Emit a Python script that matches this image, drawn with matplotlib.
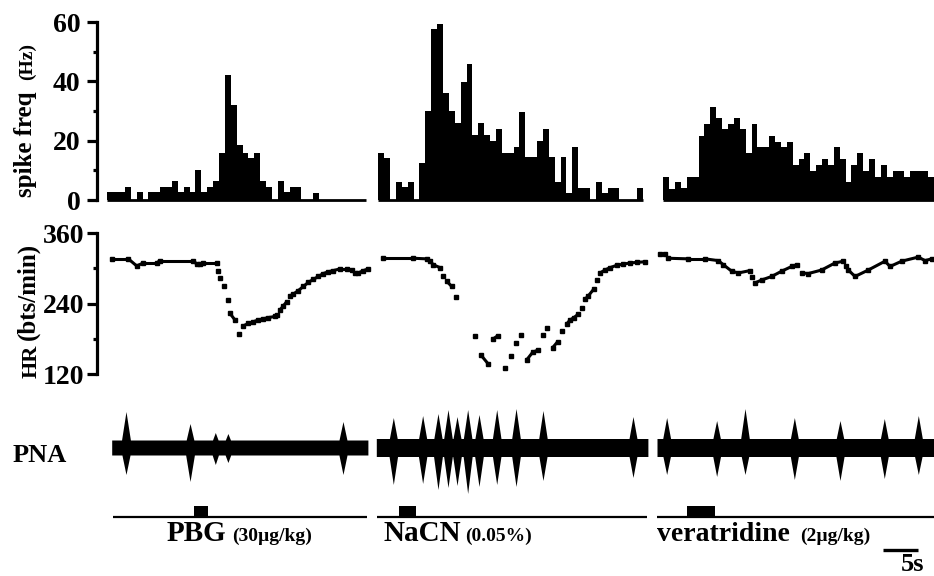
import numpy as np
import matplotlib.pyplot as plt

plt.rcParams['font.family'] = ['Liberation Serif', 'DejaVu Serif']
plt.rcParams['font.weight'] = 'bold'

W, H = 934, 576          # figure size in px
PX_PER_S = 7.0           # horizontal scale of the recording
BIN = 0.84               # histogram bin width (s)

# ---- spike frequency histograms (Hz per bin) ----
spk_pbg = [2.6, 2.6, 2.6, 4.5, 0, 2.6, 0, 2.6, 2.6, 4.5, 4.5, 6.4, 2.6, 4.5, 2.6, 10,
           2.6, 4.5, 6.4, 16, 42, 32, 18.5, 16, 14, 16, 6.4, 4.5, 0, 6.4, 2.6, 4.5,
           4.5, 0, 0, 2.5, 0, 0, 0, 0, 0, 0, 0, 0]
spk_nacn = [16, 14, 0, 6.2, 4.3, 6.2, 0, 12.4, 30, 57.5, 59.3, 36, 30, 26, 39.7, 45.7,
            22, 26, 22, 20, 24, 16, 16, 18, 29.8, 14.6, 14.6, 20, 24, 14.6, 6.2, 14.6,
            2.2, 18, 4, 4, 0, 6.2, 2.2, 4, 4, 0, 0, 0, 4]
spk_vera = [7.6, 3.7, 6, 4, 7.6, 7.6, 21.6, 25.6, 31.5, 27.5, 23.8, 25.6, 27.5, 23.8,
            15.7, 25.6, 17.8, 17.8, 21.6, 19.7, 17.8, 19.7, 11.8, 13.8, 15.7, 9.9, 11.8,
            13.8, 11.8, 17.8, 13.8, 6.2, 11.8, 15.7, 9.9, 13.8, 7.9, 11.8, 7.9, 9.9, 9.9,
            7.9, 9.9, 9.9, 9.9, 7.6]
spk_start = [1.47, 40.19, 80.9]     # time of first bin (s)

# ---- heart rate (time s, bts/min) ----
hr_pbg_t = [2.10, 4.48, 5.67, 6.62, 8.52, 9.00, 13.76, 14.24, 14.71, 15.19, 17.10, 17.33,
            17.57, 18.14, 18.67, 19.00, 19.71, 20.33, 20.90, 21.62, 22.33, 23.05, 23.76,
            24.48, 25.43, 25.67, 26.14, 26.62, 27.10, 27.57, 28.05, 28.76, 29.48, 30.19,
            30.90, 31.62, 32.33, 33.05, 33.76, 34.71, 35.67, 36.38, 36.86, 37.33, 38.05, 38.76]
hr_pbg = [316, 316, 304, 309, 309, 313, 313, 307, 307, 309, 309, 295, 283, 269, 246, 223,
          212, 188, 202, 206, 209, 212, 214, 216, 218, 221, 229, 236, 243, 253, 256, 262,
          269, 276, 281, 286, 291, 294, 296, 299, 299, 297, 292, 292, 296, 299]
hr_nacn_t = [40.90, 45.19, 47.10, 47.57, 48.05, 49.00, 49.48, 49.95, 50.67, 51.29, 54.00,
             54.86, 55.90, 56.62, 57.24, 58.29, 59.10, 59.86, 60.52, 61.38, 62.24, 63.05,
             63.67, 64.33, 65.10, 65.81, 66.48, 67.10, 67.57, 68.14, 68.76, 69.24, 69.71,
             70.19, 71.00, 71.38, 71.86, 72.57, 73.29, 74.24, 75.19, 76.14, 77.10, 78.29]
hr_nacn = [317, 317, 316, 312, 306, 301, 286, 278, 269, 251, 185, 152, 137, 180, 185, 130,
           151, 172, 186, 144, 157, 161, 186, 199, 165, 175, 193, 205, 212, 216, 222, 232,
           247, 253, 265, 280, 292, 297, 301, 305, 307, 309, 310, 311]
hr_vera_t = [80.43, 81.20, 81.62, 84.48, 86.86, 88.76, 89.48, 90.67, 91.62, 93.29, 93.62,
             94.00, 94.95, 96.38, 97.81, 99.24, 99.95, 100.67, 101.62, 103.52, 105.43,
             106.62, 107.00, 107.33, 108.29, 110.19, 112.57, 113.29, 114.95, 117.33,
             118.29, 119.24]
hr_vera = [324, 324, 317, 316, 316, 313, 306, 295, 292, 296, 285, 275, 280, 286, 295, 303,
           306, 292, 291, 297, 309, 312, 304, 297, 286, 297, 312, 303, 312, 319, 313, 316]

# ---- phrenic nerve activity: recording span, noise level, bursts ----
pna_span = [(2.1, 38.7), (39.9, 78.7), (80.0, 119.6)]
pna_noise = [7.5, 9, 9]
burst_pbg_t = [4.14, 13.29, 16.9, 18.7, 35.14]
burst_pbg_up = [36, 24, 15, 14, 26]
burst_pbg_dn = [27, 34, 17, 15, 27]
burst_nacn_t = [42.33, 46.52, 48.71, 50.14, 51.43, 52.95, 54.57, 57.10, 59.86, 63.71, 76.57]
burst_nacn_up = [30, 32, 34, 38, 31, 38, 33, 38, 39, 37, 31]
burst_nacn_dn = [37, 36, 42, 40, 38, 46, 39, 37, 39, 33, 30]
burst_vera_t = [81.38, 88.52, 92.57, 99.62, 106.14, 112.47, 117.33]
burst_vera_up = [30, 27, 39, 30, 27, 29, 32]
burst_vera_dn = [27, 29, 27, 32, 33, 31, 27]

# ---- drug injection markers ----
stim_span = [(2.23, 38.53), (39.96, 78.57), (80.0, 119.57)]
inject = [(13.86, 15.81), (43.19, 45.53), (84.33, 88.29)]
drug = ['PBG', 'NaCN', 'veratridine']
dose = ['(30µg/kg)', '(0.05%)', '(2µg/kg)']
scale_start = 112.3


def rect(left, top, right, bottom):
    return [left / W, 1 - bottom / H, (right - left) / W, (bottom - top) / H]


def fx(x):
    return x / W


def fy(y):
    return 1 - y / H


fig = plt.figure(figsize=(W / 100, H / 100), dpi=100)
xlim = (0, (W - 97) / PX_PER_S)


def style_axis(ax, pad):
    for s in ['top', 'right', 'bottom']:
        ax.spines[s].set_visible(False)
    ax.spines['left'].set_linewidth(2.3)
    ax.set_xticks([])
    ax.set_xlim(*xlim)
    ax.tick_params(axis='y', which='major', length=7, width=2.3, labelsize=20, pad=pad)
    ax.tick_params(axis='y', which='minor', length=3, width=2.3)
    ax.patch.set_alpha(0)


# spike frequency
ax1 = fig.add_axes(rect(97, 22, W, 200))
style_axis(ax1, 5)
ax1.set_ylim(0, 60)
ax1.set_yticks([0, 20, 40, 60])
ax1.set_yticks([10, 30, 50], minor=True)
for vals, t0 in zip([spk_pbg, spk_nacn, spk_vera], spk_start):
    edges = t0 + BIN * np.arange(len(vals) + 1)
    ax1.stairs(vals, edges, fill=True, color='k', lw=0)
    ax1.hlines(0, edges[0], edges[-1], color='k', lw=2.0, clip_on=False)

# heart rate
ax2 = fig.add_axes(rect(97, 233, W, 374))
style_axis(ax2, 2)
ax2.set_ylim(120, 360)
ax2.set_yticks([120, 240, 360])
ax2.set_yticks([180, 300], minor=True)
for t, b in [(hr_pbg_t, hr_pbg), (hr_nacn_t, hr_nacn), (hr_vera_t, hr_vera)]:
    t = np.array(t)
    b = np.array(b)
    ax2.plot(t, b, 's', ms=2.8, color='k', clip_on=False)
    for i in range(len(t) - 1):
        if abs(b[i + 1] - b[i]) / (t[i + 1] - t[i]) <= 16:
            ax2.plot(t[i:i + 2], b[i:i + 2], color='k', lw=2.2, solid_capstyle='round')

# PNA
ax3 = fig.add_axes(rect(97, 405, W, 490))
ax3.set_xlim(*xlim)
ax3.set_ylim(-42.5, 42.5)
ax3.axis('off')
bursts = [(burst_pbg_t, burst_pbg_up, burst_pbg_dn),
          (burst_nacn_t, burst_nacn_up, burst_nacn_dn),
          (burst_vera_t, burst_vera_up, burst_vera_dn)]
for (t0, t1), noise, (bt, bu, bd) in zip(pna_span, pna_noise, bursts):
    tt = np.linspace(t0, t1, 4000)
    up = np.full_like(tt, noise)
    dn = np.full_like(tt, noise)
    for tc, u, d in zip(bt, bu, bd):
        shape = np.clip(1 - np.abs(tt - tc) / 0.8, 0, 1)
        up = np.maximum(up, u * shape)
        dn = np.maximum(dn, d * shape)
    ax3.fill_between(tt, -dn, up, color='k', lw=0, clip_on=False)

# injection markers and scale bar
ax4 = fig.add_axes(rect(97, 506, W, 517))
ax4.set_xlim(*xlim)
ax4.set_ylim(0, 1)
ax4.axis('off')
for (t0, t1), (a, b) in zip(stim_span, inject):
    ax4.hlines(0, t0, t1, color='k', lw=1.6, clip_on=False)
    ax4.fill_between([a, b], 0, 1, color='k', lw=0)
ax4.hlines(-3, scale_start, scale_start + 5, color='k', lw=2.4, clip_on=False)

# labels
fig.text(fx(32), fy(197), 'spike freq', rotation=90, rotation_mode='anchor',
         ha='left', va='baseline', fontsize=18)
fig.text(fx(32), fy(80), '(Hz)', rotation=90, rotation_mode='anchor',
         ha='left', va='baseline', fontsize=14)
fig.text(fx(37), fy(378), 'HR', rotation=90, rotation_mode='anchor',
         ha='left', va='baseline', fontsize=16)
fig.text(fx(34), fy(340), '(bts/min)', rotation=90, rotation_mode='anchor',
         ha='left', va='baseline', fontsize=18)
fig.text(fx(13), fy(455), 'PNA', ha='left', va='center', fontsize=19)

drug_x = [167, 383, 657]
dose_x = [232, 465, 800]
drug_size = [21, 21, 20]
for name, d, x1, x2, fs in zip(drug, dose, drug_x, dose_x, drug_size):
    fig.text(fx(x1), fy(541), name, ha='left', va='baseline', fontsize=fs)
    fig.text(fx(x2), fy(541), d, ha='left', va='baseline', fontsize=14)
fig.text(fx(913), fy(571), '5s', ha='center', va='baseline', fontsize=19)

fig.savefig('out.png', dpi=100)
